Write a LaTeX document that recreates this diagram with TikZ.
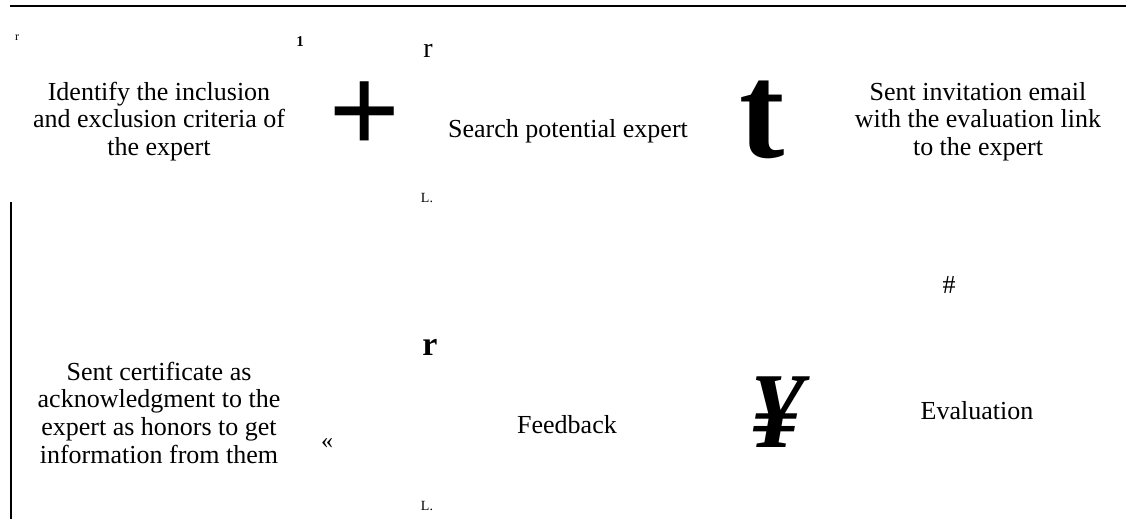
\documentclass[tikz,border=0pt]{standalone}
\usepackage{fontspec}
\setmainfont{Liberation Serif}
\begin{document}
\begin{tikzpicture}[x=1pt,y=-1pt,
  every node/.style={inner sep=0pt,outer sep=0pt},
  body/.style={font=\fontsize{26}{27.6}\selectfont,align=center},
  glyph/.style={anchor=base},
  rule/.style={line width=1.3pt}]
\useasboundingbox (0,0) rectangle (1126,519);
% rules
\coordinate (tl) at (10,6);
\coordinate (tr) at (1126,6);
\coordinate (vt) at (11,202);
\coordinate (vb) at (11,519);
\draw[rule] (tl) -- (tr);
\draw[rule] (vt) -- (vb);
% text blocks
\node[body] (crit) at (159,121.4) {Identify the inclusion\\and exclusion criteria of\\the expert};
\node[body,anchor=base] (search) at (568,137) {Search potential expert};
\node[body] (invite) at (978,121.4) {Sent invitation email\\with the evaluation link\\to the expert};
\node[body] (cert) at (159,412.6) {Sent certificate as\\acknowledgment to the\\expert as honors to get\\information from them};
\node[body,anchor=base] (feed) at (567,433) {Feedback};
\node[body,anchor=base] (eval) at (977,419) {Evaluation};
% stray glyphs
\node[glyph,font=\fontsize{12}{12}\selectfont] (g1) at (17,41) {r};
\node[glyph,font=\fontsize{15}{15}\selectfont\bfseries] (g2) at (300,47) {1};
\node[glyph,font=\fontsize{28}{28}\selectfont] (g3) at (428,58) {r};
\node[glyph,font=\fontsize{127}{127}\selectfont\bfseries] (plus) at (365,153) {+};
\node[glyph,font=\fontsize{136}{136}\selectfont\bfseries] (tee) at (762,157) {t};
\node[glyph,font=\fontsize{14}{14}\selectfont] (l1) at (427,202) {L.};
\node[glyph,font=\fontsize{26}{26}\selectfont] (hash) at (949,293) {\#};
\node[glyph,font=\fontsize{34}{34}\selectfont\bfseries] (g4) at (430,355) {r};
\node[glyph,font=\fontsize{24}{24}\selectfont] (guil) at (327,448) {«};
\node[glyph,font=\fontsize{108}{108}\selectfont\bfseries\itshape] (yen) at (776,447) {¥};
\node[glyph,font=\fontsize{14}{14}\selectfont] (l2) at (427,510) {L.};
\end{tikzpicture}
\end{document}
